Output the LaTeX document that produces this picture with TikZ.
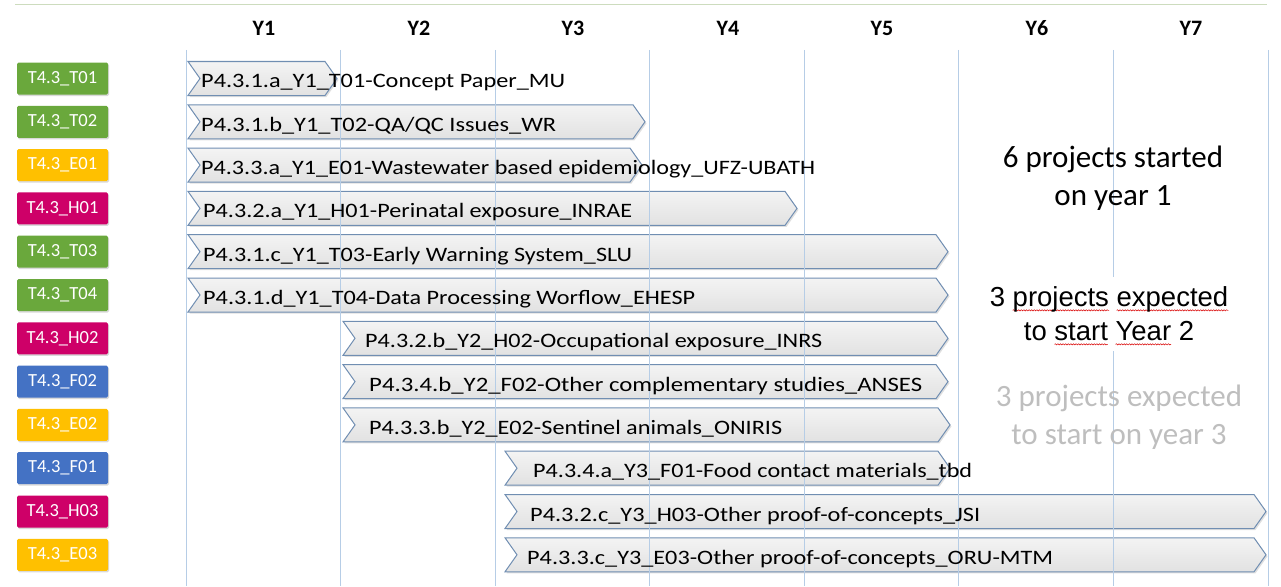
\documentclass[tikz,border=0pt]{standalone}
\usepackage{fontspec}
\setmainfont{Carlito}
\newfontfamily\arialf{Liberation Sans}
\usetikzlibrary{shadows,decorations.pathmorphing}
\definecolor{tgreen}{RGB}{106,168,60}
\definecolor{tyellow}{RGB}{255,192,0}
\definecolor{tmag}{RGB}{206,0,104}
\definecolor{tblue}{RGB}{68,114,196}
\definecolor{chevline}{RGB}{112,142,178}
\definecolor{gridc}{RGB}{182,205,230}
\definecolor{topline}{RGB}{205,220,190}
\definecolor{lightgraytext}{RGB}{190,190,190}
\newsavebox\sqbox
\newcommand\sq[1]{\sbox\sqbox{#1}\makebox[0pt][l]{\tikz[overlay,baseline=0pt]\draw[red!85!black,line width=0.5pt,decorate,decoration={snake,amplitude=0.6pt,segment length=2.6pt}] (0pt,-3.5pt) -- (\wd\sqbox,-3.5pt);}\usebox\sqbox}
\newcommand\fw[2]{\resizebox{#1pt}{\height}{#2}}
\newcommand\chevpath[3]{\path[chev] (#1,#3-17) -- (#2-12,#3-17) -- (#2,#3) -- (#2-12,#3+17) -- (#1,#3+17) -- (#1+12,#3) -- cycle;}
\tikzset{
 tag/.style={fill=#1, rounded corners=1.5pt, minimum width=91pt, minimum height=32pt, inner sep=0pt, text=white, font=\fontsize{18.5}{19}\selectfont, drop shadow={shadow xshift=1pt, shadow yshift=-1.5pt, opacity=0.3}},
 chev/.style={draw=chevline, line width=1pt, top color=gray!9, bottom color=gray!23, drop shadow={shadow xshift=1.5pt, shadow yshift=-1.5pt, opacity=0.25}},
 ptext/.style={inner sep=0pt, anchor=base west, font=\fontsize{20.5}{22}\selectfont},
 yhead/.style={font=\bfseries\fontsize{22}{23}\selectfont},
 gridline/.style={draw=gridc, line width=0.8pt},
 bigtext/.style={align=center, font=\fontsize{31}{38}\selectfont, inner sep=0pt},
}
\begin{document}
\begin{tikzpicture}[x=1pt,y=-1pt]
\useasboundingbox (0,0) rectangle (1281,586);
\draw[topline, line width=1pt] (15,5) -- (1267,5);
% year headers
\foreach \i/\xc in {1/264,2/419,3/573,4/728,5/882,6/1037,7/1191}
  \node[yhead] (y\i) at (\xc,28) {Y\i};
% tags
\node[tag=tgreen]  (tT01) at (62.5,78.5)  {T4.3\_T01};
\node[tag=tgreen]  (tT02) at (62.5,121.8) {T4.3\_T02};
\node[tag=tyellow] (tE01) at (62.5,165.1) {T4.3\_E01};
\node[tag=tmag]    (tH01) at (62.5,208.4) {T4.3\_H01};
\node[tag=tgreen]  (tT03) at (62.5,251.7) {T4.3\_T03};
\node[tag=tgreen]  (tT04) at (62.5,295)   {T4.3\_T04};
\node[tag=tmag]    (tH02) at (62.5,338.3) {T4.3\_H02};
\node[tag=tblue]   (tF02) at (62.5,381.6) {T4.3\_F02};
\node[tag=tyellow] (tE02) at (62.5,424.9) {T4.3\_E02};
\node[tag=tblue]   (tF01) at (62.5,468.2) {T4.3\_F01};
\node[tag=tmag]    (tH03) at (62.5,511.5) {T4.3\_H03};
\node[tag=tyellow] (tE03) at (62.5,554.8) {T4.3\_E03};
% chevrons
\chevpath{188}{337}{78.5}
\chevpath{188}{645}{121.8}
\chevpath{188}{642}{165.1}
\chevpath{188}{797}{208.4}
\chevpath{188}{948}{251.7}
\chevpath{188}{948}{295}
\chevpath{343}{948}{338.3}
\chevpath{343}{948}{381.6}
\chevpath{343}{950}{424.9}
\chevpath{505}{950}{468.2}
\chevpath{505}{1266}{511.5}
\chevpath{505}{1266}{554.8}
% grid lines
\foreach \xg in {186,340.5,495,649.5,804,958.5,1113,1268}
  \draw[gridline] (\xg,50) -- (\xg,586);
% chevron texts
\node[ptext] (p1)  at (201,88)    {\fw{364}{P4.3.1.a\_Y1\_T01-Concept Paper\_MU}};
\node[ptext] (p2)  at (201,131.3) {\fw{355}{P4.3.1.b\_Y1\_T02-QA/QC Issues\_WR}};
\node[ptext] (p3)  at (201,174.6) {\fw{614}{P4.3.3.a\_Y1\_E01-Wastewater based epidemiology\_UFZ-UBATH}};
\node[ptext] (p4)  at (203,217.9) {\fw{429}{P4.3.2.a\_Y1\_H01-Perinatal exposure\_INRAE}};
\node[ptext] (p5)  at (203,261.2) {\fw{429}{P4.3.1.c\_Y1\_T03-Early Warning System\_SLU}};
\node[ptext] (p6)  at (203,304.5) {\fw{492}{P4.3.1.d\_Y1\_T04-Data Processing Worflow\_EHESP}};
\node[ptext] (p7)  at (365,347.8) {\fw{457}{P4.3.2.b\_Y2\_H02-Occupational exposure\_INRS}};
\node[ptext] (p8)  at (369,391.1) {\fw{553}{P4.3.4.b\_Y2\_F02-Other complementary studies\_ANSES}};
\node[ptext] (p9)  at (369,434.4) {\fw{413}{P4.3.3.b\_Y2\_E02-Sentinel animals\_ONIRIS}};
\node[ptext] (p10) at (533,477.7) {\fw{439}{P4.3.4.a\_Y3\_F01-Food contact materials\_tbd}};
\node[ptext] (p11) at (530,521)   {\fw{450}{P4.3.2.c\_Y3\_H03-Other proof-of-concepts\_JSI}};
\node[ptext] (p12) at (527,564.3) {\fw{526}{P4.3.3.c\_Y3\_E03-Other proof-of-concepts\_ORU-MTM}};
% right texts
\node[bigtext] (b1) at (1113,178) {6 projects started\\on year 1};
\node[align=center, fill=white, inner xsep=8pt, inner ysep=10pt, font=\arialf\fontsize{27.5}{34}\selectfont] (b2) at (1109,314) {3 \sq{projects} \sq{expected}\\to \sq{start} \sq{Year} 2};
\node[bigtext, text=lightgraytext] (b3) at (1119,417) {3 projects expected\\to start on year 3};
\end{tikzpicture}
\end{document}
